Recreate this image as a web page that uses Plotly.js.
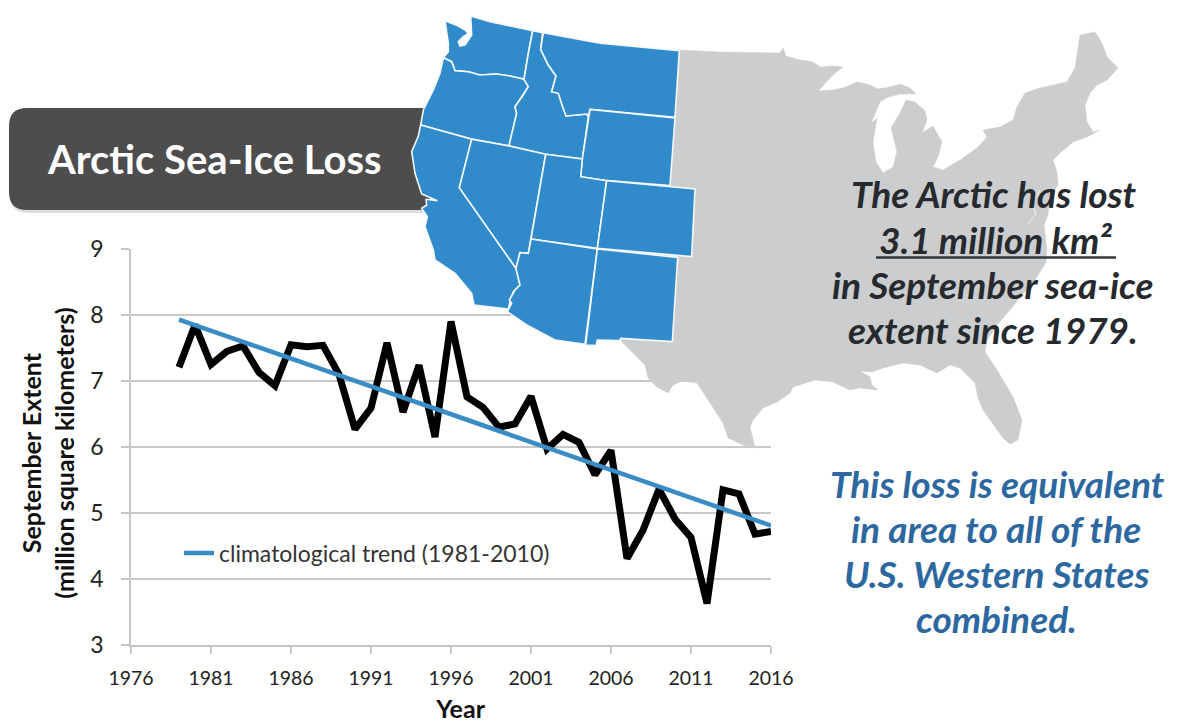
<!DOCTYPE html>
<html><head><meta charset="utf-8">
<script src="https://cdn.plot.ly/plotly-3.0.1.min.js"></script>
<style>html,body{margin:0;padding:0;background:#fff}#c{width:1177px;height:723px}</style>
</head><body><div id="c"></div>
<script>
// ---- chart data ----
const years = [1979,1980,1981,1982,1983,1984,1985,1986,1987,1988,1989,1990,1991,1992,1993,1994,1995,1996,1997,1998,1999,2000,2001,2002,2003,2004,2005,2006,2007,2008,2009,2010,2011,2012,2013,2014,2015,2016];
const extent = [7.21,7.85,7.25,7.45,7.53,7.13,6.93,7.55,7.52,7.54,7.10,6.27,6.59,7.58,6.53,7.24,6.15,7.90,6.76,6.60,6.30,6.35,6.77,5.97,6.19,6.07,5.58,5.95,4.31,4.74,5.36,4.91,4.63,3.63,5.35,5.29,4.68,4.72];
const trendYears = [1979,2016];
const trendValues = [7.93,4.81];
const xTicks = [1976,1981,1986,1991,1996,2001,2006,2011,2016];
const yTicks = [3,4,5,6,7,8,9];

// ---- map outlines ----
// silhouette of the country, in picture pixels
const usOutline = [[680,50],[720,52],[780,53],[783,48],[786,56],[800,60],[813,62],[820,67],[832,66],[843,67],[833,75],[818,91],[833,90],[843,88],[857,82],[870,85],[878,89],[890,87],[900,84],[910,88],[916,94],[900,94],[888,97],[880,102],[871,123],[877,118],[873,142],[876,162],[883,173],[893,167],[897,152],[891,128],[900,113],[906,100],[915,102],[925,111],[927,120],[922,133],[933,126],[942,142],[938,157],[933,167],[943,170],[960,160],[977,148],[987,137],[983,130],[1000,127],[1013,120],[1017,107],[1025,93],[1040,88],[1067,82],[1075,68],[1080,35],[1095,32],[1102,43],[1107,57],[1118,68],[1107,80],[1097,85],[1090,93],[1085,105],[1087,122],[1093,132],[1100,130],[1087,137],[1073,142],[1060,153],[1053,160],[1057,172],[1058,185],[1050,197],[1048,215],[1044,225],[1047,250],[1046,262],[1035,280],[1022,295],[1010,310],[997,325],[987,340],[985,352],[997,370],[1013,397],[1022,420],[1018,440],[1010,444],[1003,438],[995,427],[983,410],[978,398],[975,383],[960,368],[950,365],[937,373],[920,365],[903,363],[883,368],[872,372],[860,371],[870,377],[872,385],[878,390],[860,388],[850,390],[833,382],[815,380],[793,387],[790,393],[777,402],[763,408],[753,420],[750,427],[755,448],[743,445],[728,438],[723,423],[710,403],[697,383],[682,381],[673,385],[668,393],[657,387],[648,378],[645,365],[633,353],[622,342],[620,338],[620,50]];
const chesapeake = [[1040,190],[1032,203],[1036,214],[1028,224]];
// states, in coordinates of a 3x crop whose corner is at picture pixel (400,10)
const washington = [[135,32],[175,48],[195,60],[205,70],[190,80],[175,95],[180,108],[195,105],[215,75],[212,18],[270,35],[330,48],[398,62],[385,130],[372,207],[330,198],[290,192],[240,195],[205,185],[165,182],[155,155],[130,143],[145,125],[145,100]];
const oregon = [[130,143],[155,155],[165,182],[205,185],[240,195],[290,192],[330,198],[372,208],[385,230],[365,262],[345,290],[350,310],[327,407],[215,387],[62,345],[70,300],[85,270],[100,240],[120,190]];
const idaho = [[398,62],[428,68],[422,118],[445,165],[468,198],[455,245],[475,250],[488,290],[498,318],[560,312],[565,320],[547,447],[437,433],[327,407],[350,310],[345,290],[365,262],[385,230],[372,208],[385,130]];
const montana = [[430,68],[600,100],[838,122],[825,322],[570,298],[565,320],[560,312],[498,318],[488,290],[475,250],[455,245],[468,198],[445,165],[422,118]];
const wyoming = [[570,298],[825,324],[810,527],[620,512],[542,500],[547,447]];
const california = [[62,345],[215,388],[178,533],[348,775],[360,825],[340,845],[330,875],[325,897],[222,885],[215,850],[165,790],[105,750],[100,720],[75,650],[82,620],[65,595],[80,585],[78,568],[112,572],[85,560],[65,552],[45,490],[35,425],[55,378]];
const nevada = [[215,388],[327,408],[437,433],[385,730],[360,728],[348,775],[178,533]];
const utah = [[437,433],[547,447],[542,500],[620,512],[592,715],[393,687]];
const colorado = [[620,512],[885,537],[875,740],[592,715]];
const arizona = [[393,687],[592,717],[555,1003],[465,990],[380,945],[322,905],[335,880],[328,870],[345,840],[360,825],[348,775],[360,728],[385,730]];
const newMexico = [[592,717],[833,742],[817,995],[662,985],[660,992],[592,990],[588,1007],[557,1005]];
const westernStates = [washington,oregon,idaho,montana,wyoming,california,nevada,utah,colorado,arizona,newMexico];

const W = 1177, H = 723;
const TEXT_FONT = 'Lato, "Open Sans", sans-serif';
function mapTrace(poly, ox, oy, k, fill, lineColor, lineWidth) {
  const pts = poly.concat([poly[0]]);
  return {x: pts.map(p => ox + p[0]/k), y: pts.map(p => oy + p[1]/k), xaxis:'x2', yaxis:'y2', mode:'lines', fill:'toself',
    fillcolor: fill, line:{color: lineColor, width: lineWidth}, hoverinfo:'skip', showlegend:false};
}

const traces = [
  {x: years, y: extent, mode:'lines', line:{color:'#000', width:7}, showlegend:false, hoverinfo:'x+y'},
  {x: trendYears, y: trendValues, mode:'lines', name:'climatological trend (1981-2010)', line:{color:'#3a8cc4', width:4.5}},
  mapTrace(usOutline, 0, 0, 1, '#cbcdcf', '#cbcdcf', 0.5),
  {x: chesapeake.map(p => p[0]), y: chesapeake.map(p => p[1]), xaxis:'x2', yaxis:'y2', mode:'lines', line:{color:'#eef0f1', width:1}, hoverinfo:'skip', showlegend:false}
].concat(westernStates.map(s => mapTrace(s, 400, 10, 3, '#318bcb', '#f4f8fb', 1.6)));

function note(text, x, y, size, color, italic) {
  return {text: italic ? '<b><i>'+text+'</i></b>' : '<b>'+text+'</b>', xref:'x2', yref:'y2', x:x, y:y, showarrow:false,
    xanchor:'center', yanchor:'middle', font:{family:TEXT_FONT, size:size, color:color}};
}
const DARK = '#262a2e', BLUE = '#2c689f';
const annotations = [
  note('Arctic Sea-Ice Loss', 214, 159, 40, '#ffffff', false),
  note('The Arctic has lost', 994, 193, 37, DARK, true),
  note('3.1 million km²', 995, 239, 37, DARK, true),
  note('in September sea-ice', 993, 284, 37, DARK, true),
  note('extent since 1979.', 993, 329, 37, DARK, true),
  note('This loss is equivalent', 997, 483, 37, BLUE, true),
  note('in area to all of the', 996, 528, 37, BLUE, true),
  note('U.S. Western States', 996, 573, 37, BLUE, true),
  note('combined.', 996, 618, 37, BLUE, true)
];

function rounded(x0,y0,x1,y1,r){
  return `M${x0+r},${y0} L${x1},${y0} L${x1},${y1} L${x0+r},${y1} Q${x0},${y1} ${x0},${y1-r} L${x0},${y0+r} Q${x0},${y0} ${x0+r},${y0} Z`;
}
const shapes = [
  {type:'path', xref:'x2', yref:'y2', path:rounded(10,110,430,213,18), fillcolor:'rgba(0,0,0,0.13)', line:{width:0}, layer:'below'},
  {type:'path', xref:'x2', yref:'y2', path:rounded(9,108,430,210,18), fillcolor:'#4d4d4d', line:{width:0}, layer:'below'},
  {type:'line', xref:'x2', yref:'y2', x0:876, x1:1116, y0:257.5, y1:257.5, line:{color:'#33363a', width:2.5}, layer:'above'}
];

const layout = {
  width:W, height:H, margin:{l:0,r:0,t:0,b:0,pad:0}, paper_bgcolor:'#fff', plot_bgcolor:'rgba(0,0,0,0)',
  font:{family:TEXT_FONT, color:'#222'},
  xaxis:{domain:[131/W,771/W], range:[1976,2016], tickmode:'array', tickvals:xTicks, ticktext:xTicks.map(String), showgrid:false, zeroline:false,
    showline:true, linecolor:'#c6c6c6', linewidth:1.5, ticks:'outside', ticklen:7, tickwidth:1.5, tickcolor:'#c6c6c6', ticklabelstandoff:8,
    tickfont:{size:19.5, color:'#222', family:TEXT_FONT},
    title:{text:'&nbsp;&nbsp;&nbsp;<b>Year</b>', standoff:23, font:{size:25, color:'#111', family:TEXT_FONT}}},
  yaxis:{domain:[(H-645)/H,(H-249)/H], range:[3,9], tickmode:'array', tickvals:yTicks, ticktext:yTicks.map(String), gridcolor:'#c8c8c8', gridwidth:1.5, zeroline:false,
    showline:true, linecolor:'#c6c6c6', linewidth:1.5, ticks:'outside', ticklen:8, tickwidth:1.5, tickcolor:'#c6c6c6', ticklabelstandoff:13,
    tickfont:{size:23, color:'#222', family:TEXT_FONT},
    title:{text:'<b>September Extent&nbsp;&nbsp;<br>(million square kilometers)&nbsp;&nbsp;</b>', standoff:9, font:{size:25, color:'#111', family:TEXT_FONT}}},
  xaxis2:{domain:[0,1], range:[0,W], anchor:'y2', visible:false, fixedrange:true},
  yaxis2:{domain:[0,1], range:[H,0], anchor:'x2', visible:false, fixedrange:true},
  legend:{x:(179)/W, y:(H-553)/H, xanchor:'left', yanchor:'middle', bgcolor:'rgba(0,0,0,0)', font:{size:23, color:'#333', family:TEXT_FONT}},
  showlegend:true, shapes:shapes, annotations:annotations
};
Plotly.newPlot('c', traces, layout, {displayModeBar:false, responsive:false});
</script></body></html>
